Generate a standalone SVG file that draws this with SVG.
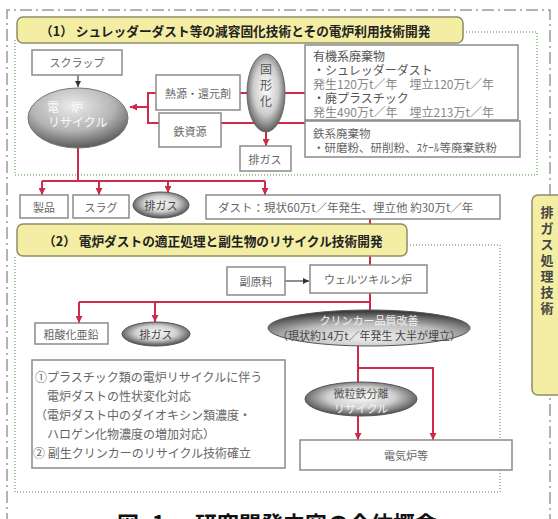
<svg xmlns="http://www.w3.org/2000/svg" width="558" height="519" viewBox="0 0 558 519">
<style>
text{font-family:"Noto Sans CJK JP","Noto Sans",sans-serif;}
.box{fill:#fff;stroke:#8a8a8a;stroke-width:1.5;}
.t{font-size:12px;fill:#666;}
.tc{text-anchor:middle;dominant-baseline:central;}
.hdr{fill:#f4eea4;stroke:#8f8d66;stroke-width:1.5;}
.ht{font-size:12.7px;font-weight:bold;fill:#222;dominant-baseline:central;}
.red{fill:none;stroke:#d02a4a;stroke-width:2;}
.blk{fill:none;stroke:#444;stroke-width:1.2;}
.dot{fill:none;stroke:#7fb97a;stroke-width:1.5;stroke-dasharray:1 2;}
.frame{fill:none;stroke:#9a9a9a;stroke-width:1.5;stroke-dasharray:12 4 2 4;}
</style>
<defs>
<marker id="ar" viewBox="0 0 8 8" refX="8" refY="4" markerWidth="7" markerHeight="7" orient="auto" markerUnits="userSpaceOnUse"><path d="M0,0 L8,4 L0,8 z" fill="#d02a4a"/></marker>
<marker id="ab" viewBox="0 0 8 8" refX="8" refY="4" markerWidth="6" markerHeight="6" orient="auto" markerUnits="userSpaceOnUse"><path d="M0,0 L8,4 L0,8 z" fill="#333"/></marker>
<radialGradient id="gE" cx="0.45" cy="0.3" r="0.75"><stop offset="0" stop-color="#ececec"/><stop offset="0.55" stop-color="#b4b4b4"/><stop offset="1" stop-color="#4a4a4a"/></radialGradient>
<radialGradient id="gG" cx="0.5" cy="0.45" r="0.6"><stop offset="0" stop-color="#fafafa"/><stop offset="0.5" stop-color="#d0d0d0"/><stop offset="1" stop-color="#333"/></radialGradient>
<radialGradient id="gV" cx="0.5" cy="0.45" r="0.6"><stop offset="0" stop-color="#fff"/><stop offset="0.55" stop-color="#cdcdcd"/><stop offset="1" stop-color="#444"/></radialGradient>
<radialGradient id="gC" cx="0.5" cy="0.75" r="0.7"><stop offset="0" stop-color="#f2f2f2"/><stop offset="0.55" stop-color="#bcbcbc"/><stop offset="1" stop-color="#3e3e3e"/></radialGradient>
</defs>
<rect width="558" height="519" fill="#fff"/>

<path class="frame" d="M7,525 V10 H550 V525"/>

<g id="section1-frame">
<path class="dot" d="M463,32 H537 V175 H15 V40"/>
</g>
<g id="section2-frame">
<path class="dot" d="M407,245 H500 V492 H15 V256"/>
</g>

<g id="connectors">
<path class="blk" d="M78,75 V87" marker-end="url(#ab)"/>
<path class="red" d="M240,93 H305"/>
<path class="red" d="M221,123 H305"/>
<path class="red" d="M156,93 H148 V123 H159"/>
<path class="red" d="M148,107 H130" marker-end="url(#ar)"/>
<path class="red" d="M266,130 V146" marker-end="url(#ar)"/>
<path class="red" d="M78,148 V181"/>
<path class="red" d="M42,181 H265"/>
<path class="red" d="M42,181 V195" marker-end="url(#ar)"/>
<path class="red" d="M99,181 V195" marker-end="url(#ar)"/>
<path class="red" d="M168,181 V193" marker-end="url(#ar)"/>
<path class="red" d="M265,181 V195" marker-end="url(#ar)"/>
<path class="red" d="M370,219 V265"/>
<path class="blk" d="M285,281 V281 H309" marker-end="url(#ab)"/>
<path class="red" d="M370,293 V311"/>
<path class="red" d="M79,302 H370"/>
<path class="red" d="M79,302 V323" marker-end="url(#ar)"/>
<path class="red" d="M155,302 V322" marker-end="url(#ar)"/>
<path class="red" d="M358,344 V384"/>
<path class="red" d="M358,368 H433 V440" marker-end="url(#ar)"/>
<path class="red" d="M358,416 V440" marker-end="url(#ar)"/>
</g>

<g id="header1">
<rect class="hdr" x="17" y="17" width="446" height="26" rx="6"/>
<text class="ht" x="40" y="30">（1） シュレッダーダスト等の減容固化技術とその電炉利用技術開発</text>
</g>

<g id="scrap">
<rect class="box" x="32" y="50" width="90" height="25"/>
<text class="t tc" x="77" y="62" style="font-size:11px">スクラップ</text>
</g>

<g id="denro-recycle">
<ellipse cx="78" cy="118" rx="50" ry="30" fill="url(#gE)" stroke="#777" stroke-width="1"/>
<text x="47" y="106" style="font-size:12px;fill:#fafafa;dominant-baseline:central">電　炉</text>
<text x="48" y="121" style="font-size:12px;fill:#fafafa;dominant-baseline:central">リサイクル</text>
</g>

<g id="netsugen">
<rect class="box" x="156" y="75" width="84" height="35"/>
<text class="t tc" x="198" y="93" style="font-size:11px">熱源・還元剤</text>
</g>

<g id="tetsushigen">
<rect class="box" x="159" y="113" width="62" height="34"/>
<text class="t tc" x="190" y="131" style="font-size:11px">鉄資源</text>
</g>

<g id="kokeika">
<ellipse cx="266" cy="93" rx="19" ry="39" fill="url(#gV)" stroke="#666" stroke-width="1"/>
<text class="tc" x="266" y="68" style="font-size:12px;fill:#555">固</text>
<text class="tc" x="266" y="84" style="font-size:12px;fill:#555">形</text>
<text class="tc" x="266" y="100" style="font-size:12px;fill:#555">化</text>
</g>

<g id="haigas1">
<rect class="box" x="240" y="146" width="51" height="25"/>
<text class="t tc" x="265" y="159" style="font-size:11px">排ガス</text>
</g>

<g id="yuukikei">
<rect class="box" x="305" y="45" width="213" height="75"/>
<text x="313" y="55" style="font-size:12px;fill:#555;dominant-baseline:central">有機系廃棄物</text>
<text x="313" y="69" style="font-size:12px;fill:#555;dominant-baseline:central">・シュレッダーダスト</text>
<text x="313" y="83" style="font-size:12px;fill:#888;dominant-baseline:central">発生120万t／年　埋立120万t／年</text>
<text x="313" y="97" style="font-size:12px;fill:#555;dominant-baseline:central">・廃プラスチック</text>
<text x="313" y="111" style="font-size:12px;fill:#888;dominant-baseline:central">発生490万t／年　埋立213万t／年</text>
</g>

<g id="tetsukei">
<rect class="box" x="305" y="121" width="215" height="36"/>
<text x="313" y="133" style="font-size:11.5px;fill:#666;dominant-baseline:central">鉄系廃棄物</text>
<text x="313" y="147" style="font-size:11.5px;fill:#666;dominant-baseline:central">・研磨粉、研削粉、ｽｹｰﾙ等廃棄鉄粉</text>
</g>

<g id="seihin">
<rect class="box" x="20" y="195" width="48" height="23"/>
<text class="t tc" x="44" y="207" style="font-size:11px">製品</text>
</g>

<g id="slag">
<rect class="box" x="73" y="195" width="56" height="23"/>
<text class="t tc" x="101" y="207" style="font-size:11px">スラグ</text>
</g>

<g id="haigas2">
<ellipse cx="161" cy="205" rx="28" ry="13" fill="url(#gG)" stroke="#555" stroke-width="1"/>
<text class="tc" x="161" y="205" style="font-size:11px;fill:#444">排ガス</text>
</g>

<g id="dust">
<rect class="box" x="206" y="195" width="294" height="24"/>
<text x="218" y="207" style="font-size:11.5px;fill:#666;dominant-baseline:central">ダスト：現状60万t／年発生、埋立他 約30万t／年</text>
</g>

<g id="header2">
<rect class="hdr" x="17" y="224" width="390" height="32" rx="6"/>
<text class="ht" x="43" y="240">（2） 電炉ダストの適正処理と副生物のリサイクル技術開発</text>
</g>

<g id="fukugenryo">
<rect class="box" x="227" y="267" width="58" height="28"/>
<text class="t tc" x="256" y="281" style="font-size:11px">副原料</text>
</g>

<g id="waelz">
<rect class="box" x="310" y="265" width="117" height="28"/>
<text class="t tc" x="368" y="279" style="font-size:11px">ウェルツキルン炉</text>
</g>

<g id="soasanka">
<rect class="box" x="35" y="323" width="73" height="21"/>
<text class="t tc" x="71" y="334" style="font-size:11px">粗酸化亜鉛</text>
</g>

<g id="haigas3">
<ellipse cx="156" cy="334" rx="34" ry="12" fill="url(#gG)" stroke="#555" stroke-width="1"/>
<text class="tc" x="156" y="334" style="font-size:11px;fill:#444">排ガス</text>
</g>

<g id="clinker">
<ellipse cx="369" cy="328" rx="101" ry="18" fill="url(#gC)" stroke="#555" stroke-width="1"/>
<text class="tc" x="369" y="320" style="font-size:11px;fill:#f2f2f2">クリンカー品質改善</text>
<text class="tc" x="369" y="335" style="font-size:11px;fill:#444">（現状約14万t／年発生 大半が埋立）</text>
</g>

<g id="biryu">
<ellipse cx="361" cy="399" rx="56" ry="17" fill="url(#gG)" stroke="#555" stroke-width="1"/>
<text class="tc" x="361" y="393" style="font-size:11px;fill:#555">微粒鉄分離</text>
<text class="tc" x="361" y="408" style="font-size:11px;fill:#f4f4f4">リサイクル</text>
</g>

<g id="denkiro">
<rect class="box" x="300" y="440" width="212" height="30"/>
<text class="t tc" x="406" y="455" style="font-size:11px">電気炉等</text>
</g>

<g id="notes">
<rect class="box" x="32" y="360" width="253" height="108"/>
<text x="35" y="376" style="font-size:12px;fill:#666;dominant-baseline:central">①プラスチック類の電炉リサイクルに伴う</text>
<text x="47" y="395" style="font-size:12px;fill:#666;dominant-baseline:central">電炉ダストの性状変化対応</text>
<text x="35" y="414" style="font-size:12px;fill:#666;dominant-baseline:central">（電炉ダスト中のダイオキシン類濃度・</text>
<text x="47" y="433" style="font-size:12px;fill:#666;dominant-baseline:central">ハロゲン化物濃度の増加対応）</text>
<text x="33" y="452" style="font-size:12px;fill:#666;dominant-baseline:central">② 副生クリンカーのリサイクル技術確立</text>
</g>

<g id="side-haigas">
<rect class="hdr" x="532" y="195" width="36" height="200" rx="6"/>
<text class="tc" style="font-size:13px;font-weight:bold;fill:#444"><tspan x="547" y="211">排</tspan><tspan x="547" y="227">ガ</tspan><tspan x="547" y="243">ス</tspan><tspan x="547" y="259">処</tspan><tspan x="547" y="275">理</tspan><tspan x="547" y="291">技</tspan><tspan x="547" y="307">術</tspan></text>
</g>

<g id="title">
<text y="532" style="font-size:22px;font-weight:bold;fill:#111"><tspan x="117">図</tspan><tspan x="152">1</tspan><tspan x="195">研究開発内容の全体概念</tspan></text>
</g>
</svg>
